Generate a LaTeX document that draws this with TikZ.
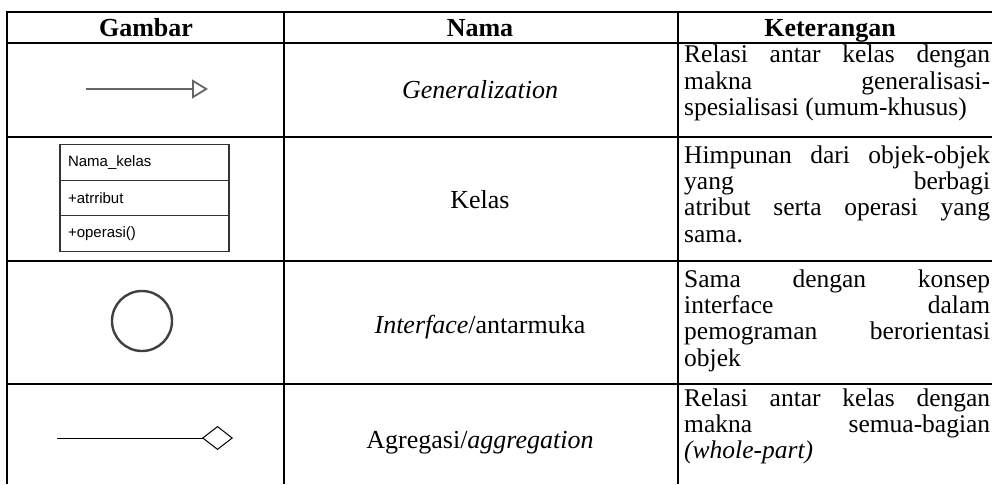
\documentclass[tikz,border=0pt]{standalone}
\usepackage{fontspec}
\setmainfont{Liberation Serif}
\newfontfamily\umlfont{Liberation Sans}
\usepackage{tikz}
\usetikzlibrary{arrows.meta, positioning}

\begin{document}
\begin{tikzpicture}[
      x=1pt, y=-1pt,
      tableline/.style={
        line width=2pt,
        black
      },
      headlabel/.style={
        font=\fontsize{26}{27}\selectfont\bfseries,
        anchor=base,
        inner sep=0
      },
      namelabel/.style={
        font=\fontsize{26}{27}\selectfont,
        anchor=base,
        inner sep=0
      },
      desctext/.style={
        font=\fontsize{25.5}{26.4}\selectfont,
        text width=306pt,
        align=justify,
        anchor=base west,
        inner sep=0
      },
      classpart/.style={
        rectangle,
        draw=black!80,
        line width=1.2pt,
        minimum width=169pt,
        minimum height=35.5pt,
        text width=153pt,
        inner xsep=8pt,
        inner ysep=0pt,
        outer sep=0pt,
        align=left,
        font=\umlfont\fontsize{15}{16}\selectfont
      },
      genarrow/.style={
        line width=1.8pt,
        black!60,
        -{Triangle[open, length=16pt, width=19pt]}
      },
      aggarrow/.style={
        line width=1pt,
        -{Diamond[open, length=31pt, width=24pt]}
      }
    ]
    \useasboundingbox (0,0) rectangle (992,484);

    % Table Lines
    \foreach \y in {12,43,137,261,384}
      \draw [tableline] (6,\y) -- (992,\y);
    \foreach \x in {7,284,678}
      \draw [tableline] (\x,11) -- (\x,484);

    % Header Nodes
    \node (gambarHead) [headlabel] at (146,37) {Gambar};
    \node (namaHead) [headlabel] at (480,37) {Nama};
    \node (ketHead) [headlabel] at (830,37) {Keterangan};

    % Generalization Row
    \coordinate (genStart) at (86,89);
    \coordinate (genEnd) at (208,89);
    \draw [genarrow] (genStart) -- (genEnd);
    \node (genName) [namelabel] at (480,99) {\textit{Generalization}};
    \node (genDesc) [desctext] at (684,63) {\parfillskip=0pt Relasi antar kelas dengan\linebreak makna generalisasi-\linebreak spesialisasi (umum-khusus)};

    % Kelas Row
    \node (clsName) [classpart] at (144.5,162.5) {Nama\_kelas};
    \node (clsAttr) [classpart, below=0pt of clsName] {+atrribut};
    \node (clsOps) [classpart, below=0pt of clsAttr] {+operasi()};
    \node (kelasName) [namelabel] at (480,208) {Kelas};
    \node (kelasDesc) [desctext] at (684,163) {Himpunan dari objek-objek\linebreak yang berbagi\linebreak atribut serta operasi yang\linebreak sama.};

    % Interface Row
    \node (ifaceCircle) [circle, draw=black!75, line width=2.4pt, minimum size=60pt, inner sep=0] at (142,321) {};
    \node (ifaceName) [namelabel] at (480,333) {\textit{Interface}/antarmuka};
    \node (ifaceDesc) [desctext] at (684,287) {Sama dengan konsep\linebreak interface dalam\linebreak pemograman berorientasi\linebreak objek};

    % Agregasi Row
    \coordinate (aggStart) at (57,438);
    \coordinate (aggEnd) at (233,438);
    \draw [aggarrow] (aggStart) -- (aggEnd);
    \node (aggName) [namelabel] at (480,448) {Agregasi/\textit{aggregation}};
    \node (aggDesc) [desctext] at (684,406) {Relasi antar kelas dengan\linebreak makna semua-bagian\linebreak \textit{(whole-part)}};

    \end{tikzpicture}
\end{document}
